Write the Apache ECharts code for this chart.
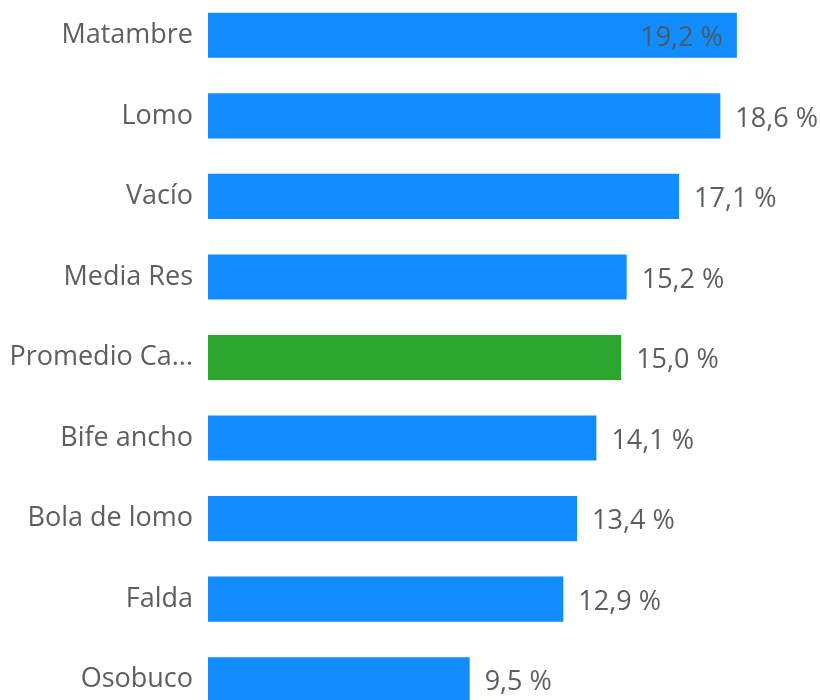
<!DOCTYPE html>
<html>
<head>
<meta charset="utf-8">
<script src="https://cdn.jsdelivr.net/npm/echarts@6/dist/echarts.min.js"></script>
<style>
  html, body { margin: 0; padding: 0; background: #fff; overflow: hidden; }
  /* el gráfico original es algo más alto que la ventana: la última fila queda cortada */
  #chart { width: 820px; height: 725px; margin-top: -5px; }
</style>
</head>
<body>
<div id="chart"></div>
<script>
// cortes y su porcentaje
const cortes = ['Matambre', 'Lomo', 'Vacío', 'Media Res', 'Promedio Carne', 'Bife ancho', 'Bola de lomo', 'Falda', 'Osobuco'];
const porcentajes = [19.2, 18.6, 17.1, 15.2, 15.0, 14.1, 13.4, 12.9, 9.5];
const promedioIdx = 4;

const azul = '#118DFF';
const verde = '#2BA52E';
const gris = '#605E5C';

const fmt = v => v.toFixed(1).replace('.', ',') + ' %';

const chart = echarts.init(document.getElementById('chart'));
chart.setOption({
    animation: false,
    textStyle: { fontFamily: 'Open Sans' },
    grid: { left: 208, right: 6, top: 0, bottom: 0, containLabel: false },
    xAxis: {
        type: 'value',
        min: 0,
        max: 22,
        show: false
    },
    yAxis: {
        type: 'category',
        inverse: true,
        data: cortes,
        axisLine: { show: false },
        axisTick: { show: false },
        axisLabel: {
            color: gris,
            fontSize: 27,
            margin: 15,
            width: 186,
            backgroundColor: 'rgba(255,255,255,0)',
            padding: [6, 0, 0, 0],
            overflow: 'truncate',
            ellipsis: '...'
        }
    },
    series: [{
        type: 'bar',
        barCategoryGap: '44%',
        data: porcentajes.map((v, i) => {
            const item = {
                value: v,
                itemStyle: { color: i === promedioIdx ? verde : azul }
            };
            // el primero lleva la etiqueta dentro de la barra
            if (i === 0) {
                item.label = { position: 'insideRight', distance: 14, color: '#4B5A66' };
            }
            return item;
        }),
        label: {
            show: true,
            position: 'right',
            distance: 15,
            offset: [0, 3],
            color: gris,
            fontSize: 27,
            formatter: p => fmt(p.value)
        }
    }]
});
</script>
</body>
</html>
